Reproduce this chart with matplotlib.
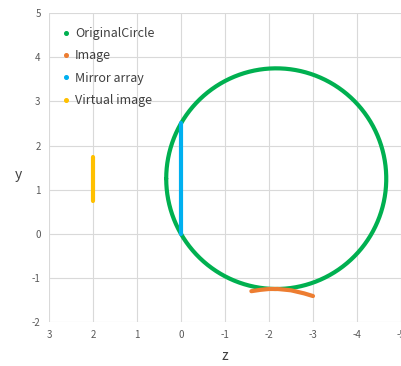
import numpy as np
import matplotlib
matplotlib.use('Agg')
import matplotlib.pyplot as plt

plt.rcParams['font.family'] = ['Noto Sans CJK JP', 'DejaVu Sans']
plt.rcParams['axes.unicode_minus'] = False

# circle through (0, 0) and (0, 2.5)
circle_center = (-2.165, 1.25)
circle_radius = 2.5

image_z = [-1.6, -1.8, -2.0, -2.2, -2.5, -2.8, -3.0]
image_y = [-1.30, -1.27, -1.25, -1.25, -1.28, -1.35, -1.41]

mirror_z = [0, 0]
mirror_y = [0, 2.5]

virtual_z = [2, 2]
virtual_y = [0.75, 1.75]

green = '#00B050'
orange = '#ED7D31'
blue = '#00B0F0'
yellow = '#FFC000'

fig = plt.figure(figsize=(4.01, 3.66), dpi=100)
ax = fig.add_axes([0.122, 0.12, 0.878, 0.844])

t = np.linspace(0, 2 * np.pi, 400)
cz = circle_center[0] + circle_radius * np.cos(t)
cy = circle_center[1] + circle_radius * np.sin(t)

lw = 3.0
ax.plot(cz, cy, color=green, lw=lw, solid_capstyle='round', label='OriginalCircle')
ax.plot(image_z, image_y, color=orange, lw=lw, solid_capstyle='round', label='Image')
ax.plot(mirror_z, mirror_y, color=blue, lw=lw, solid_capstyle='round', label='Mirror array')
ax.plot(virtual_z, virtual_y, color=yellow, lw=lw, solid_capstyle='round', label='Virtual image')

ax.set_xlim(3, -5)
ax.set_ylim(-2, 5)
ax.set_xticks(range(3, -6, -1))
ax.set_yticks(range(-2, 6))
ax.grid(True, color='#d9d9d9', lw=0.8)
ax.set_axisbelow(True)
for s in ax.spines.values():
    s.set_visible(False)
ax.tick_params(length=0, labelsize=7, colors='#595959', pad=6)

ax.set_xlabel('z', fontsize=10, color='#404040', labelpad=6)
ax.set_ylabel('y', fontsize=10, color='#404040', rotation=0, va='center')
ax.yaxis.set_label_coords(-0.088, 0.476)

handles = [plt.Line2D([], [], marker='o', ls='none', ms=2.6, color=c) for c in (green, orange, blue, yellow)]
ax.legend(handles, ['OriginalCircle', 'Image', 'Mirror array', 'Virtual image'],
          loc='upper left', frameon=False, fontsize=9, handlelength=1.0,
          handletextpad=0.2, labelspacing=0.75, bbox_to_anchor=(0.0, 0.992),
          labelcolor='#404040')

fig.savefig('out.png', dpi=100)
